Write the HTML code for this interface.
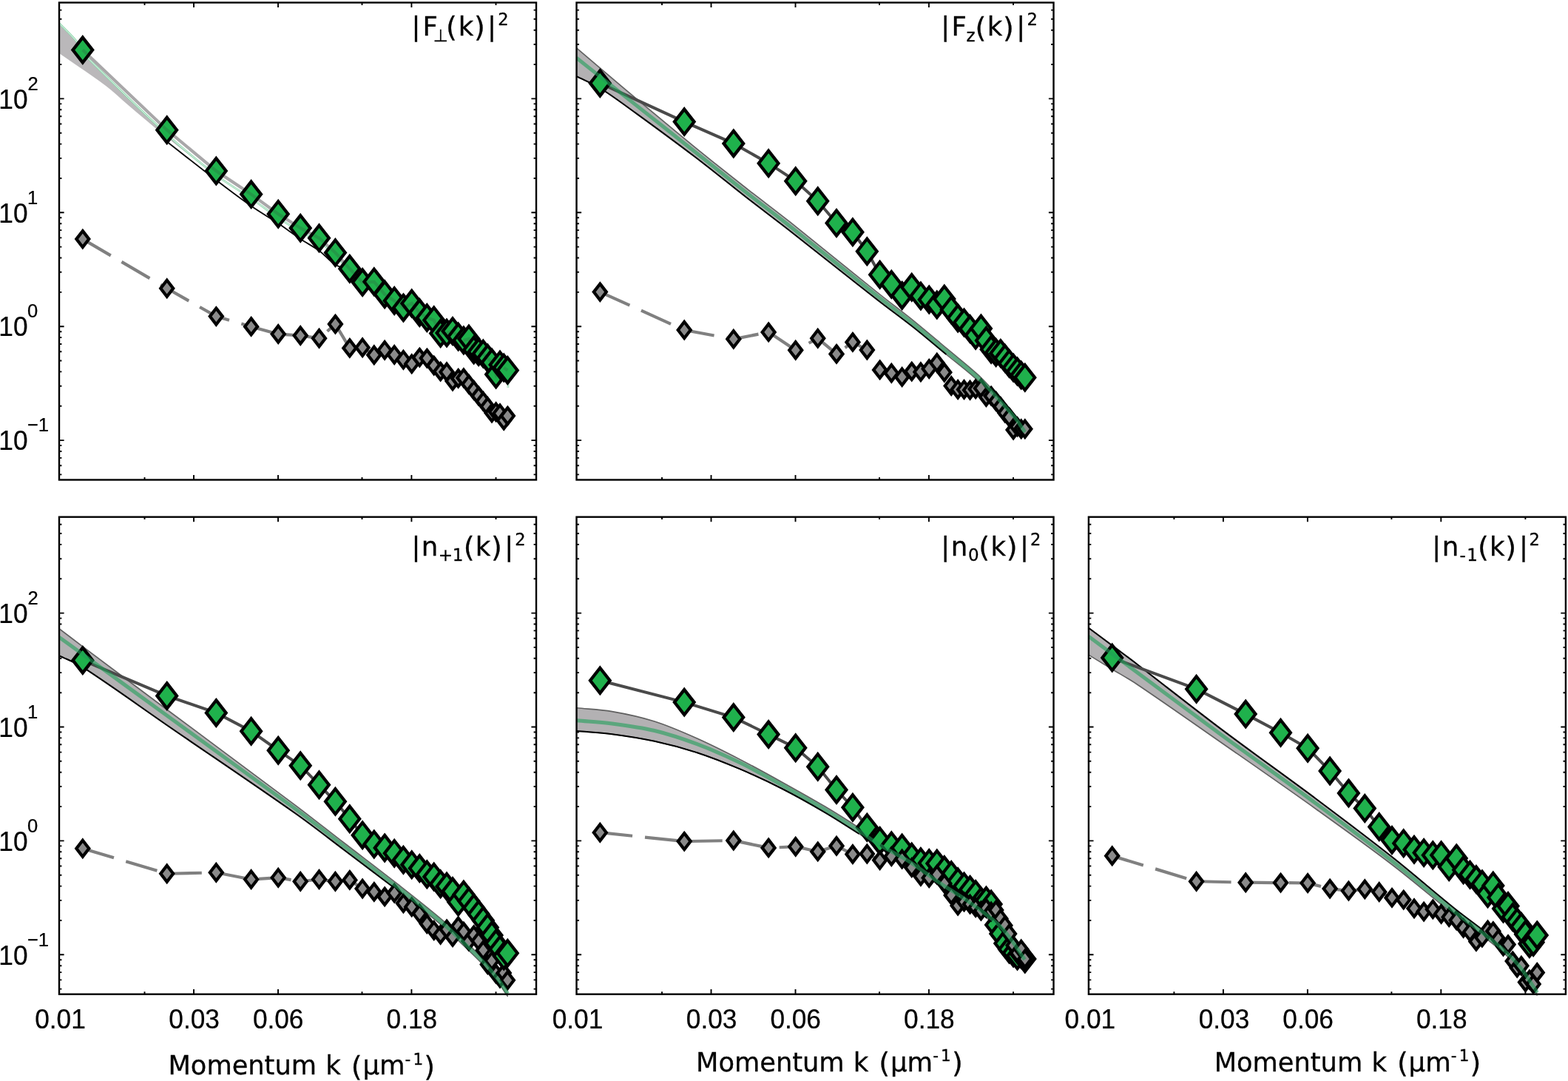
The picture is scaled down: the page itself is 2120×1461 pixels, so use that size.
<!DOCTYPE html>
<html lang="en"><head><meta charset="utf-8"><title>Momentum spectra</title>
<style>
html,body{margin:0;padding:0;background:#fff}
body{width:2120px;height:1461px;overflow:hidden}
svg{display:block}
text{fill:#000}
.tk{font-family:"Liberation Sans",sans-serif;font-size:36.5px;stroke:#000;stroke-width:.25px}
.sp{font-size:26.5px}
.tt{font-family:"DejaVu Sans","Liberation Sans",sans-serif;font-size:35.5px;stroke:#000;stroke-width:.3px}
.gl{fill:none;stroke:#4a4a4a;stroke-width:4}
.gl1{fill:none;stroke:#a9a7a9;stroke-width:4.2}
.st{fill:none;stroke:#3c3c3c;stroke-opacity:.2;stroke-width:4.2}
.gm{fill:#1fb14c;stroke:#000;stroke-width:4.3;stroke-linejoin:miter}
.kl{fill:none;stroke:#808080;stroke-width:4.2;stroke-dasharray:44 17}
.km{fill:#8a8a8a;stroke:#000;stroke-width:4.2;stroke-linejoin:miter}
.bf{fill:#b3b1b3;stroke:none}
.bf1{fill:#bab8ba;stroke:none}
.be{fill:none;stroke:#606060;stroke-width:1.6}
.bk{fill:none;stroke:#000;stroke-width:2}
.bk1{fill:none;stroke:#000;stroke-width:1.8}
.gt1{fill:none;stroke:#8fd4ac;stroke-width:2.6}
.gt2{fill:none;stroke:#f4fff8;stroke-width:.9}
.gs{fill:none;stroke:#1f9e58;stroke-opacity:.6;stroke-width:5}
</style></head><body>
<svg width="2120" height="1461" viewBox="0 0 2120 1461" role="img" aria-label="Momentum spectra of spin and density fluctuations">
<rect width="2120" height="1461" fill="#fff"/>
<defs>
<clipPath id="cP1"><rect x="80" y="-36.5" width="685" height="705"/></clipPath>
<clipPath id="cP2"><rect x="779.5" y="-36.5" width="685" height="705"/></clipPath>
<clipPath id="cP3"><rect x="80" y="658.7" width="685" height="705"/></clipPath>
<clipPath id="cP4"><rect x="779.5" y="658.7" width="685" height="705"/></clipPath>
<clipPath id="cP5"><rect x="1471.9" y="658.7" width="685" height="705"/></clipPath>
<path id="gd" class="gm" d="M0 -17L13.3 0L0 17L-13.3 0Z"/>
<path id="kd" class="km" d="M0 -11L8.5 0L0 11L-8.5 0Z"/>
</defs>
<g id="P1">
<path d="M195.5 3.5v3.4M195.5 648.5v-3.4M262 3.5v6.6M262 648.5v-6.6M376 3.5v6.6M376 648.5v-6.6M489.5 3.5v3.4M489.5 648.5v-3.4M556.4 3.5v6.6M556.4 648.5v-6.6M670.5 3.5v3.4M670.5 648.5v-3.4M80 133.4h6.6M725 133.4h-6.6M80 87.1h3.4M725 87.1h-3.4M80 60h3.4M725 60h-3.4M80 40.7h3.4M725 40.7h-3.4M80 25.8h3.4M725 25.8h-3.4M80 13.6h3.4M725 13.6h-3.4M80 287.3h6.6M725 287.3h-6.6M80 241h3.4M725 241h-3.4M80 213.9h3.4M725 213.9h-3.4M80 194.6h3.4M725 194.6h-3.4M80 179.7h3.4M725 179.7h-3.4M80 167.5h3.4M725 167.5h-3.4M80 157.2h3.4M725 157.2h-3.4M80 148.3h3.4M725 148.3h-3.4M80 140.4h3.4M725 140.4h-3.4M80 441.2h6.6M725 441.2h-6.6M80 394.9h3.4M725 394.9h-3.4M80 367.8h3.4M725 367.8h-3.4M80 348.5h3.4M725 348.5h-3.4M80 333.6h3.4M725 333.6h-3.4M80 321.4h3.4M725 321.4h-3.4M80 311.1h3.4M725 311.1h-3.4M80 302.2h3.4M725 302.2h-3.4M80 294.3h3.4M725 294.3h-3.4M80 595.1h6.6M725 595.1h-6.6M80 548.8h3.4M725 548.8h-3.4M80 521.7h3.4M725 521.7h-3.4M80 502.4h3.4M725 502.4h-3.4M80 487.5h3.4M725 487.5h-3.4M80 475.3h3.4M725 475.3h-3.4M80 465h3.4M725 465h-3.4M80 456.1h3.4M725 456.1h-3.4M80 448.2h3.4M725 448.2h-3.4M80 641.4h3.4M725 641.4h-3.4M80 629.2h3.4M725 629.2h-3.4M80 618.9h3.4M725 618.9h-3.4M80 610h3.4M725 610h-3.4M80 602.1h3.4M725 602.1h-3.4" fill="none" stroke="#000" stroke-width="1.9"/>
<g clip-path="url(#cP1)">
<path class="bf1" d="M80 31.5C87.2 38.9 94.9 45.8 101.6 53.7C105.6 58.4 108.4 64 111.9 69C114.4 72.6 116.7 76.4 119.8 79.5C154.6 114 189.5 148.5 225.7 181.5C247 200.9 270.1 218.4 292.3 236.8L292.4 237.5C270.2 220.3 247.6 203.4 225.7 185.8C207.7 171.4 190.3 156.4 172.7 141.5C163 133.3 153.8 124.3 143.7 116.5C131.3 106.9 118.2 98.4 105.4 89.5C97 83.6 88.5 77.8 80 72Z"/>
<path class="bk1" d="M225.7 191.5C247.9 208.8 270 226.4 292.4 243.5C308 255.4 323.6 267.3 339.7 278.5C351.6 286.8 364.3 294 376.4 302.1C386.5 308.9 396.2 316.3 406.3 323C414.6 328.6 423.7 333.1 431.7 339C439.5 344.8 445.4 353 453.7 358C459.5 361.5 466.6 362 473 364"/>
<path class="gt1" d="M80 31.5C87.2 38.9 94.9 45.8 101.6 53.7C105.6 58.4 108.4 64 111.9 69C114.4 72.6 116.7 76.4 119.8 79.5C154.6 114 189.5 148.5 225.7 181.5C247 200.9 269.3 219.3 292.3 236.8C307.3 248.3 324 257.5 339.6 268.2C351.9 276.7 363.8 286 376.2 294.4C386 301 396 307.2 406.2 313.2C414.4 318 423.6 321.4 431.5 326.8C439.4 332.2 446.5 338.9 453.4 345.5C460.3 352 466.3 359.4 472.8 366.3C478.5 372.4 482.7 380.7 490.1 384.6C494.7 387.1 501.2 381.3 505.8 383.8C512.3 387.3 514.7 395.7 520.1 400.7C523.9 404.3 528.9 406.4 533.2 409.5C537.4 412.5 540.3 418.1 545.4 418.9C549.6 419.5 552.6 411.8 556.7 413C562 414.6 563.3 421.8 567.3 425.6C570.2 428.4 573.7 430.6 577.3 432.5C580.2 434 584.5 433.3 586.7 435.8C591 440.8 590.9 448.8 595.6 453.5C597.5 455.5 601.2 453.5 604 453C606.7 452.5 609.3 449.6 612 450.5C615.4 451.6 616.9 455.7 619.6 458C621.9 459.9 624.1 462.4 626.9 463C629.3 463.5 632.2 459.3 633.9 461C637.9 464.8 637.4 471.6 640.6 476C642 477.8 644.9 477.7 647.1 478.5C649.2 479.3 651.5 479.7 653.3 481C655.6 482.6 657.3 485 659.3 487C661.2 489 663.8 490.5 665 493C667.6 498 665.1 507.5 670.6 509C675.1 510.2 672.4 499 676 496C677.7 494.6 680 498.2 681.2 500C683.6 503.7 685.7 507.7 686.7 512C687.6 515.9 686.8 520 686.9 524"/>
<path class="gt2" d="M80 31.5C87.2 38.9 94.9 45.8 101.6 53.7C105.6 58.4 108.4 64 111.9 69C114.4 72.6 116.7 76.4 119.8 79.5C154.6 114 189.5 148.5 225.7 181.5C247 200.9 269.3 219.3 292.3 236.8C307.3 248.3 324 257.5 339.6 268.2C351.9 276.7 363.8 286 376.2 294.4C386 301 396 307.2 406.2 313.2C414.4 318 423.6 321.4 431.5 326.8C439.4 332.2 446.5 338.9 453.4 345.5C460.3 352 466.3 359.4 472.8 366.3C478.5 372.4 482.7 380.7 490.1 384.6C494.7 387.1 501.2 381.3 505.8 383.8C512.3 387.3 514.7 395.7 520.1 400.7C523.9 404.3 528.9 406.4 533.2 409.5C537.4 412.5 540.3 418.1 545.4 418.9C549.6 419.5 552.6 411.8 556.7 413C562 414.6 563.3 421.8 567.3 425.6C570.2 428.4 573.7 430.6 577.3 432.5C580.2 434 584.5 433.3 586.7 435.8C591 440.8 590.9 448.8 595.6 453.5C597.5 455.5 601.2 453.5 604 453C606.7 452.5 609.3 449.6 612 450.5C615.4 451.6 616.9 455.7 619.6 458C621.9 459.9 624.1 462.4 626.9 463C629.3 463.5 632.2 459.3 633.9 461C637.9 464.8 637.4 471.6 640.6 476C642 477.8 644.9 477.7 647.1 478.5C649.2 479.3 651.5 479.7 653.3 481C655.6 482.6 657.3 485 659.3 487C661.2 489 663.8 490.5 665 493C667.6 498 665.1 507.5 670.6 509C675.1 510.2 672.4 499 676 496C677.7 494.6 680 498.2 681.2 500C683.6 503.7 685.7 507.7 686.7 512C687.6 515.9 686.8 520 686.9 524"/>
<polyline class="kl" points="111.8,323.1 225.7,389.8 292.3,427.6 339.6,441.4 376.2,451.5 406.2,453.5 431.5,457.3 453.4,438.1 472.8,470.4 490.1,469.7 505.8,479.8 520.1,473.3 533.2,479.5 545.4,486.2 556.7,491.7 567.3,483.1 577.3,484.1 586.7,494.1 595.6,502.1 604,502.8 612,515 619.6,511.4 626.9,510.7 633.9,519.3 640.6,527.2 647.1,535.1 653.3,542.3 659.3,549.5 665,558.1 670.6,556.7 676,558.8 681.2,568.2 686.3,562.1"/>
<use href="#kd" x="111.8" y="323.1"/><use href="#kd" x="225.7" y="389.8"/><use href="#kd" x="292.3" y="427.6"/><use href="#kd" x="339.6" y="441.4"/><use href="#kd" x="376.2" y="451.5"/><use href="#kd" x="406.2" y="453.5"/><use href="#kd" x="431.5" y="457.3"/><use href="#kd" x="453.4" y="438.1"/><use href="#kd" x="472.8" y="470.4"/><use href="#kd" x="490.1" y="469.7"/><use href="#kd" x="505.8" y="479.8"/><use href="#kd" x="520.1" y="473.3"/><use href="#kd" x="533.2" y="479.5"/><use href="#kd" x="545.4" y="486.2"/><use href="#kd" x="556.7" y="491.7"/><use href="#kd" x="567.3" y="483.1"/><use href="#kd" x="577.3" y="484.1"/><use href="#kd" x="586.7" y="494.1"/><use href="#kd" x="595.6" y="502.1"/><use href="#kd" x="604" y="502.8"/><use href="#kd" x="612" y="515"/><use href="#kd" x="619.6" y="511.4"/><use href="#kd" x="626.9" y="510.7"/><use href="#kd" x="633.9" y="519.3"/><use href="#kd" x="640.6" y="527.2"/><use href="#kd" x="647.1" y="535.1"/><use href="#kd" x="653.3" y="542.3"/><use href="#kd" x="659.3" y="549.5"/><use href="#kd" x="665" y="558.1"/><use href="#kd" x="670.6" y="556.7"/><use href="#kd" x="676" y="558.8"/><use href="#kd" x="681.2" y="568.2"/><use href="#kd" x="686.3" y="562.1"/>
<polyline class="gl1" points="111.8,67.6 225.7,175.7 292.3,231 339.6,262.6 376.2,289.2 406.2,308.2 431.5,321.8 453.4,341.5 472.8,363.3 490.1,381.6 505.8,380.8 520.1,397.7 533.2,406.5 545.4,415.9 556.7,410 567.3,422.6 577.3,429.5 586.7,432.8 595.6,450.5 604,450 612,447.5 619.6,455 626.9,460 633.9,458 640.6,473 647.1,475.5 653.3,478 659.3,484 665,490 670.6,506 676,493 681.2,497 686.3,500.5"/>
<use href="#gd" x="111.8" y="67.6"/>
<polyline class="st" points="111.8,67.6 117.8,73.3"/>
<use href="#gd" x="225.7" y="175.7"/>
<polyline class="st" points="219.7,170 225.7,175.7 232,180.9"/>
<use href="#gd" x="292.3" y="231"/>
<polyline class="st" points="286,225.8 292.3,231 299.1,235.6"/>
<use href="#gd" x="339.6" y="262.6"/>
<polyline class="st" points="332.7,258 339.6,262.6 346.2,267.4"/>
<use href="#gd" x="376.2" y="289.2"/>
<polyline class="st" points="369.6,284.4 376.2,289.2 383.2,293.6"/>
<use href="#gd" x="406.2" y="308.2"/>
<polyline class="st" points="399.2,303.8 406.2,308.2 413.5,312.1"/>
<use href="#gd" x="431.5" y="321.8"/>
<polyline class="st" points="424.2,317.9 431.5,321.8 437.6,327.3"/>
<use href="#gd" x="453.4" y="341.5"/>
<polyline class="st" points="447.3,336 453.4,341.5 459,347.7"/>
<use href="#gd" x="472.8" y="363.3"/>
<polyline class="st" points="467.3,357.1 472.8,363.3 478.5,369.3"/>
<use href="#gd" x="490.1" y="381.6"/>
<polyline class="st" points="484.4,375.6 490.1,381.6 500.1,381.1"/>
<use href="#gd" x="505.8" y="380.8"/>
<polyline class="st" points="495.8,381.3 505.8,380.8 511.2,387.2"/>
<use href="#gd" x="520.1" y="397.7"/>
<polyline class="st" points="514.7,391.3 520.1,397.7 526.9,402.3"/>
<use href="#gd" x="533.2" y="406.5"/>
<polyline class="st" points="526.4,401.9 533.2,406.5 539.7,411.5"/>
<use href="#gd" x="545.4" y="415.9"/>
<polyline class="st" points="538.9,410.9 545.4,415.9 552.8,412.1"/>
<use href="#gd" x="556.7" y="410"/>
<polyline class="st" points="549.3,413.8 556.7,410 562.1,416.4"/>
<use href="#gd" x="567.3" y="422.6"/>
<polyline class="st" points="561.9,416.2 567.3,422.6 574.1,427.3"/>
<use href="#gd" x="577.3" y="429.5"/>
<polyline class="st" points="570.5,424.8 577.3,429.5 585.4,432.4"/>
<use href="#gd" x="586.7" y="432.8"/>
<polyline class="st" points="578.5,429.9 586.7,432.8 590.7,440.9"/>
<use href="#gd" x="595.6" y="450.5"/>
<polyline class="st" points="591.5,442.4 595.6,450.5 604,450"/>
<use href="#gd" x="604" y="450"/>
<polyline class="st" points="595.6,450.5 604,450 612,447.5"/>
<use href="#gd" x="612" y="447.5"/>
<polyline class="st" points="604,450 612,447.5 617.9,453.3"/>
<use href="#gd" x="619.6" y="455"/>
<polyline class="st" points="613.8,449.2 619.6,455 626.4,459.6"/>
<use href="#gd" x="626.9" y="460"/>
<polyline class="st" points="620.2,455.4 626.9,460 633.9,458"/>
<use href="#gd" x="633.9" y="458"/>
<polyline class="st" points="626.9,460 633.9,458 637.7,466.5"/>
<use href="#gd" x="640.6" y="473"/>
<polyline class="st" points="636.9,464.5 640.6,473 647.1,475.5"/>
<use href="#gd" x="647.1" y="475.5"/>
<polyline class="st" points="640.6,473 647.1,475.5 653.3,478"/>
<use href="#gd" x="653.3" y="478"/>
<polyline class="st" points="647.1,475.5 653.3,478 659.1,483.8"/>
<use href="#gd" x="659.3" y="484"/>
<polyline class="st" points="653.4,478.2 659.3,484 665,490"/>
<use href="#gd" x="665" y="490"/>
<polyline class="st" points="659.3,484 665,490 668.2,499.2"/>
<use href="#gd" x="670.6" y="506"/>
<polyline class="st" points="667.4,496.8 670.6,506 674.2,497.3"/>
<use href="#gd" x="676" y="493"/>
<polyline class="st" points="672.4,501.7 676,493 681.2,497"/>
<use href="#gd" x="681.2" y="497"/>
<polyline class="st" points="676,493 681.2,497 686.3,500.5"/>
<use href="#gd" x="686.3" y="500.5"/>
<polyline class="st" points="681.2,497 686.3,500.5"/>

</g>
<rect x="80" y="3.5" width="645" height="645" fill="none" stroke="#000" stroke-width="2.4"/>
</g>
<g id="P2">
<path d="M895 3.5v3.4M895 648.5v-3.4M961.5 3.5v6.6M961.5 648.5v-6.6M1075.5 3.5v6.6M1075.5 648.5v-6.6M1189 3.5v3.4M1189 648.5v-3.4M1255.9 3.5v6.6M1255.9 648.5v-6.6M1370 3.5v3.4M1370 648.5v-3.4M779.5 133.4h6.6M1424.5 133.4h-6.6M779.5 87.1h3.4M1424.5 87.1h-3.4M779.5 60h3.4M1424.5 60h-3.4M779.5 40.7h3.4M1424.5 40.7h-3.4M779.5 25.8h3.4M1424.5 25.8h-3.4M779.5 13.6h3.4M1424.5 13.6h-3.4M779.5 287.3h6.6M1424.5 287.3h-6.6M779.5 241h3.4M1424.5 241h-3.4M779.5 213.9h3.4M1424.5 213.9h-3.4M779.5 194.6h3.4M1424.5 194.6h-3.4M779.5 179.7h3.4M1424.5 179.7h-3.4M779.5 167.5h3.4M1424.5 167.5h-3.4M779.5 157.2h3.4M1424.5 157.2h-3.4M779.5 148.3h3.4M1424.5 148.3h-3.4M779.5 140.4h3.4M1424.5 140.4h-3.4M779.5 441.2h6.6M1424.5 441.2h-6.6M779.5 394.9h3.4M1424.5 394.9h-3.4M779.5 367.8h3.4M1424.5 367.8h-3.4M779.5 348.5h3.4M1424.5 348.5h-3.4M779.5 333.6h3.4M1424.5 333.6h-3.4M779.5 321.4h3.4M1424.5 321.4h-3.4M779.5 311.1h3.4M1424.5 311.1h-3.4M779.5 302.2h3.4M1424.5 302.2h-3.4M779.5 294.3h3.4M1424.5 294.3h-3.4M779.5 595.1h6.6M1424.5 595.1h-6.6M779.5 548.8h3.4M1424.5 548.8h-3.4M779.5 521.7h3.4M1424.5 521.7h-3.4M779.5 502.4h3.4M1424.5 502.4h-3.4M779.5 487.5h3.4M1424.5 487.5h-3.4M779.5 475.3h3.4M1424.5 475.3h-3.4M779.5 465h3.4M1424.5 465h-3.4M779.5 456.1h3.4M1424.5 456.1h-3.4M779.5 448.2h3.4M1424.5 448.2h-3.4M779.5 641.4h3.4M1424.5 641.4h-3.4M779.5 629.2h3.4M1424.5 629.2h-3.4M779.5 618.9h3.4M1424.5 618.9h-3.4M779.5 610h3.4M1424.5 610h-3.4M779.5 602.1h3.4M1424.5 602.1h-3.4" fill="none" stroke="#000" stroke-width="1.9"/>
<g clip-path="url(#cP2)">
<path class="bf" d="M779.5 64.9C790.1 73.9 800.6 82.9 811.2 91.9C827.4 105.7 843.6 119.5 860 133.1C886.6 155.3 913.2 177.4 940 199.3C962.7 217.7 985.5 235.9 1008.5 254C1028.3 269.6 1048.6 284.5 1068.3 300.2C1107.7 331.5 1146.6 363.6 1186 395C1202.6 408.3 1219.7 421 1236.2 434.3C1250.8 446.1 1265 458.3 1279.4 470.4C1293.8 482.5 1308.7 493.9 1322.5 506.7C1332.7 516.1 1341.8 526.7 1351.2 536.9C1358.6 544.9 1366 552.8 1372.8 561.3C1377.5 567.2 1381.4 573.8 1385.7 580L1385.7 588C1381.4 581.8 1377.5 575.2 1372.8 569.3C1366 560.8 1358.6 552.9 1351.2 544.9C1341.8 534.7 1332.7 524.1 1322.5 514.7C1308.8 502.1 1293.8 490.9 1279.4 479C1265 467.1 1250.8 454.9 1236.2 443.3C1219.7 430.2 1202.6 418 1186 405C1146.6 374.3 1107.7 343 1068.3 312.2C1048.5 296.7 1028.3 281.7 1008.5 266.2C985.6 248.3 963.1 229.9 940 212.3C913.6 192.2 886.9 172.6 860 153.1C843.9 141.5 828.1 129.5 811.2 119C801.2 112.8 790.1 108.5 779.5 103.2Z"/>
<path class="be" d="M779.5 64.9C790.1 73.9 800.6 82.9 811.2 91.9C827.4 105.7 843.6 119.5 860 133.1C886.6 155.3 913.2 177.4 940 199.3C962.7 217.7 985.5 235.9 1008.5 254C1028.3 269.6 1048.6 284.5 1068.3 300.2C1107.7 331.5 1146.6 363.6 1186 395C1202.6 408.3 1219.7 421 1236.2 434.3C1250.8 446.1 1265 458.3 1279.4 470.4C1293.8 482.5 1308.7 493.9 1322.5 506.7C1332.7 516.1 1341.8 526.7 1351.2 536.9C1358.6 544.9 1366 552.8 1372.8 561.3C1377.5 567.2 1381.4 573.8 1385.7 580"/>
<path class="be" d="M779.5 103.2C790.1 108.5 801.2 112.8 811.2 119C828.1 129.5 843.9 141.5 860 153.1C886.9 172.6 913.6 192.2 940 212.3C963.1 229.9 985.6 248.3 1008.5 266.2C1028.3 281.7 1048.5 296.7 1068.3 312.2C1107.7 343 1146.6 374.3 1186 405C1202.6 418 1219.7 430.2 1236.2 443.3C1250.8 454.9 1265 467.1 1279.4 479C1293.8 490.9 1308.8 502.1 1322.5 514.7C1332.7 524.1 1341.8 534.7 1351.2 544.9C1358.6 552.9 1366 560.8 1372.8 569.3C1377.5 575.2 1381.4 581.8 1385.7 588"/>
<path class="bk" d="M779.5 103.2C790.1 108.5 801.2 112.8 811.2 119C828.1 129.5 843.9 141.5 860 153.1C886.9 172.6 913.6 192.2 940 212.3C963.1 229.9 985.6 248.3 1008.5 266.2C1028.3 281.7 1048.5 296.7 1068.3 312.2C1107.7 343 1146.6 374.3 1186 405C1202.6 418 1219.7 430.2 1236.2 443.3C1250.8 454.9 1265 467.1 1279.4 479"/>
<polyline class="kl" points="811.3,394.6 925.2,446 991.8,458.3 1039.1,448.9 1075.7,473.2 1105.7,457.3 1131,478.4 1152.9,462.4 1172.3,473 1189.6,499.9 1205.3,504.2 1219.6,509.5 1232.7,502.1 1244.9,502.8 1256.2,498.5 1266.8,490.3 1276.8,503.2 1286.2,521.5 1295.1,526.5 1303.5,526.5 1311.5,527.2 1319.1,525.8 1326.4,524.8 1333.4,536.6 1340.1,535.1 1346.6,542.3 1352.8,549.5 1358.8,558.1 1364.5,563.9 1370.1,581.1 1375.5,576.8 1380.7,579.7 1385.8,579.7"/>
<use href="#kd" x="811.3" y="394.6"/><use href="#kd" x="925.2" y="446"/><use href="#kd" x="991.8" y="458.3"/><use href="#kd" x="1039.1" y="448.9"/><use href="#kd" x="1075.7" y="473.2"/><use href="#kd" x="1105.7" y="457.3"/><use href="#kd" x="1131" y="478.4"/><use href="#kd" x="1152.9" y="462.4"/><use href="#kd" x="1172.3" y="473"/><use href="#kd" x="1189.6" y="499.9"/><use href="#kd" x="1205.3" y="504.2"/><use href="#kd" x="1219.6" y="509.5"/><use href="#kd" x="1232.7" y="502.1"/><use href="#kd" x="1244.9" y="502.8"/><use href="#kd" x="1256.2" y="498.5"/><use href="#kd" x="1266.8" y="490.3"/><use href="#kd" x="1276.8" y="503.2"/><use href="#kd" x="1286.2" y="521.5"/><use href="#kd" x="1295.1" y="526.5"/><use href="#kd" x="1303.5" y="526.5"/><use href="#kd" x="1311.5" y="527.2"/><use href="#kd" x="1319.1" y="525.8"/><use href="#kd" x="1326.4" y="524.8"/><use href="#kd" x="1333.4" y="536.6"/><use href="#kd" x="1340.1" y="535.1"/><use href="#kd" x="1346.6" y="542.3"/><use href="#kd" x="1352.8" y="549.5"/><use href="#kd" x="1358.8" y="558.1"/><use href="#kd" x="1364.5" y="563.9"/><use href="#kd" x="1370.1" y="581.1"/><use href="#kd" x="1375.5" y="576.8"/><use href="#kd" x="1380.7" y="579.7"/><use href="#kd" x="1385.8" y="579.7"/>
<polyline class="gl" points="811.3,112.4 925.2,164.6 991.8,193.9 1039.1,220.7 1075.7,244.7 1105.7,271.8 1131,301.5 1152.9,313.8 1172.3,339.7 1189.6,371.3 1205.3,384.2 1219.6,399.4 1232.7,388.2 1244.9,400 1256.2,405 1266.8,412 1276.8,404 1286.2,418.7 1295.1,429.9 1303.5,436 1311.5,444.6 1319.1,453.2 1326.4,444 1333.4,460.2 1340.1,472.2 1346.6,476.5 1352.8,477.4 1358.8,484.3 1364.5,491.2 1370.1,497 1375.5,502 1380.7,507 1385.8,510.3"/>
<use href="#gd" x="811.3" y="112.4"/><use href="#gd" x="925.2" y="164.6"/><use href="#gd" x="991.8" y="193.9"/><use href="#gd" x="1039.1" y="220.7"/><use href="#gd" x="1075.7" y="244.7"/><use href="#gd" x="1105.7" y="271.8"/><use href="#gd" x="1131" y="301.5"/><use href="#gd" x="1152.9" y="313.8"/><use href="#gd" x="1172.3" y="339.7"/><use href="#gd" x="1189.6" y="371.3"/><use href="#gd" x="1205.3" y="384.2"/><use href="#gd" x="1219.6" y="399.4"/><use href="#gd" x="1232.7" y="388.2"/><use href="#gd" x="1244.9" y="400"/><use href="#gd" x="1256.2" y="405"/><use href="#gd" x="1266.8" y="412"/><use href="#gd" x="1276.8" y="404"/><use href="#gd" x="1286.2" y="418.7"/><use href="#gd" x="1295.1" y="429.9"/><use href="#gd" x="1303.5" y="436"/><use href="#gd" x="1311.5" y="444.6"/><use href="#gd" x="1319.1" y="453.2"/><use href="#gd" x="1326.4" y="444"/><use href="#gd" x="1333.4" y="460.2"/><use href="#gd" x="1340.1" y="472.2"/><use href="#gd" x="1346.6" y="476.5"/><use href="#gd" x="1352.8" y="477.4"/><use href="#gd" x="1358.8" y="484.3"/><use href="#gd" x="1364.5" y="491.2"/><use href="#gd" x="1370.1" y="497"/><use href="#gd" x="1375.5" y="502"/><use href="#gd" x="1380.7" y="507"/><use href="#gd" x="1385.8" y="510.3"/>
<path class="gs" d="M779.5 78.3C790.1 86.7 800.6 95 811.2 103.4C827.5 116.3 843.7 129.2 860 142.1C886.7 163.2 913.3 184.4 940 205.5C962.8 223.6 985.6 241.8 1008.5 259.8C1028.3 275.3 1048.5 290.4 1068.3 306C1107.7 337.1 1146.6 368.9 1186 400C1202.6 413.1 1219.7 425.6 1236.2 438.8C1250.8 450.5 1265 462.7 1279.4 474.7C1293.8 486.7 1308.7 498 1322.5 510.7C1332.7 520.1 1341.8 530.7 1351.2 540.9C1358.6 548.9 1366 556.8 1372.8 565.3C1377.5 571.2 1381.4 577.8 1385.7 584"/>
</g>
<rect x="779.5" y="3.5" width="645" height="645" fill="none" stroke="#000" stroke-width="2.4"/>
</g>
<g id="P3">
<path d="M195.5 698.7v3.4M195.5 1343.7v-3.4M262 698.7v6.6M262 1343.7v-6.6M376 698.7v6.6M376 1343.7v-6.6M489.5 698.7v3.4M489.5 1343.7v-3.4M556.4 698.7v6.6M556.4 1343.7v-6.6M670.5 698.7v3.4M670.5 1343.7v-3.4M80 828.6h6.6M725 828.6h-6.6M80 782.3h3.4M725 782.3h-3.4M80 755.2h3.4M725 755.2h-3.4M80 735.9h3.4M725 735.9h-3.4M80 721h3.4M725 721h-3.4M80 708.8h3.4M725 708.8h-3.4M80 982.5h6.6M725 982.5h-6.6M80 936.2h3.4M725 936.2h-3.4M80 909.1h3.4M725 909.1h-3.4M80 889.8h3.4M725 889.8h-3.4M80 874.9h3.4M725 874.9h-3.4M80 862.7h3.4M725 862.7h-3.4M80 852.4h3.4M725 852.4h-3.4M80 843.5h3.4M725 843.5h-3.4M80 835.6h3.4M725 835.6h-3.4M80 1136.4h6.6M725 1136.4h-6.6M80 1090.1h3.4M725 1090.1h-3.4M80 1063h3.4M725 1063h-3.4M80 1043.7h3.4M725 1043.7h-3.4M80 1028.8h3.4M725 1028.8h-3.4M80 1016.6h3.4M725 1016.6h-3.4M80 1006.3h3.4M725 1006.3h-3.4M80 997.4h3.4M725 997.4h-3.4M80 989.5h3.4M725 989.5h-3.4M80 1290.3h6.6M725 1290.3h-6.6M80 1244h3.4M725 1244h-3.4M80 1216.9h3.4M725 1216.9h-3.4M80 1197.6h3.4M725 1197.6h-3.4M80 1182.7h3.4M725 1182.7h-3.4M80 1170.5h3.4M725 1170.5h-3.4M80 1160.2h3.4M725 1160.2h-3.4M80 1151.3h3.4M725 1151.3h-3.4M80 1143.4h3.4M725 1143.4h-3.4M80 1336.6h3.4M725 1336.6h-3.4M80 1324.4h3.4M725 1324.4h-3.4M80 1314.1h3.4M725 1314.1h-3.4M80 1305.2h3.4M725 1305.2h-3.4M80 1297.3h3.4M725 1297.3h-3.4" fill="none" stroke="#000" stroke-width="1.9"/>
<g clip-path="url(#cP3)">
<path class="bf" d="M80 849.7C90.6 857.7 101.2 865.8 111.8 873.8C149.7 902.2 187.6 930.7 225.6 959C283.7 1002.3 342.1 1045.3 400 1088.8C421.9 1105.3 443.3 1122.3 465 1139C490 1158.3 515.2 1177.2 540 1196.7C559.6 1212.1 579.2 1227.4 598.2 1243.5C610.3 1253.8 621.6 1265 633.1 1276C641 1283.6 648.9 1291.2 656.3 1299.3C662.5 1306 668.3 1313.1 673.8 1320.3C678.4 1326.3 682.3 1332.7 686.6 1338.9L686.6 1346.9C682.3 1340.7 678.4 1334.3 673.8 1328.3C668.3 1321.1 662.5 1314 656.3 1307.3C648.9 1299.2 641 1291.6 633.1 1284C621.6 1273 610.3 1261.8 598.2 1251.5C579.3 1235.5 559.6 1220.5 540 1205.3C515.2 1186.1 490 1167.4 465 1148.5C443.4 1132.2 422.1 1115.4 400 1099.8C342.3 1059.2 283.7 1020 225.6 980C187.7 953.9 150.5 926.7 111.8 901.7C101.9 895.3 90.6 891.3 80 886.1Z"/>
<path class="be" d="M80 849.7C90.6 857.7 101.2 865.8 111.8 873.8C149.7 902.2 187.6 930.7 225.6 959C283.7 1002.3 342.1 1045.3 400 1088.8C421.9 1105.3 443.3 1122.3 465 1139C490 1158.3 515.2 1177.2 540 1196.7C559.6 1212.1 579.2 1227.4 598.2 1243.5C610.3 1253.8 621.6 1265 633.1 1276C641 1283.6 648.9 1291.2 656.3 1299.3C662.5 1306 668.3 1313.1 673.8 1320.3C678.4 1326.3 682.3 1332.7 686.6 1338.9"/>
<path class="be" d="M80 886.1C90.6 891.3 101.9 895.3 111.8 901.7C150.5 926.7 187.7 953.9 225.6 980C283.7 1020 342.3 1059.2 400 1099.8C422.1 1115.4 443.4 1132.2 465 1148.5C490 1167.4 515.2 1186.1 540 1205.3C559.6 1220.5 579.3 1235.5 598.2 1251.5C610.3 1261.8 621.6 1273 633.1 1284C641 1291.6 648.9 1299.2 656.3 1307.3C662.5 1314 668.3 1321.1 673.8 1328.3C678.4 1334.3 682.3 1340.7 686.6 1346.9"/>
<path class="bk" d="M80 886.1C90.6 891.3 101.9 895.3 111.8 901.7C150.5 926.7 187.7 953.9 225.6 980C283.7 1020 342.3 1059.2 400 1099.8C422.1 1115.4 443.4 1132.2 465 1148.5C490 1167.4 515 1186.4 540 1205.3"/>
<polyline class="kl" points="111.8,1146.7 225.7,1180.8 292.3,1179.3 339.6,1188.5 376.2,1186.2 406.2,1191.2 431.5,1188.5 453.4,1191.3 472.8,1189.4 490.1,1201 505.8,1205.4 520.1,1211.9 533.2,1207 545.4,1220.8 556.7,1225.7 567.3,1234.7 577.3,1248.5 586.7,1257.5 595.6,1263.2 604,1255.9 612,1266.5 619.6,1251.8 626.9,1259.1 633.9,1272 640.6,1263.6 647.1,1271.8 653.3,1284.2 659.3,1303.5 665,1298.5 670.6,1316 676,1322 681.2,1315 686.3,1324.7"/>
<use href="#kd" x="111.8" y="1146.7"/><use href="#kd" x="225.7" y="1180.8"/><use href="#kd" x="292.3" y="1179.3"/><use href="#kd" x="339.6" y="1188.5"/><use href="#kd" x="376.2" y="1186.2"/><use href="#kd" x="406.2" y="1191.2"/><use href="#kd" x="431.5" y="1188.5"/><use href="#kd" x="453.4" y="1191.3"/><use href="#kd" x="472.8" y="1189.4"/><use href="#kd" x="490.1" y="1201"/><use href="#kd" x="505.8" y="1205.4"/><use href="#kd" x="520.1" y="1211.9"/><use href="#kd" x="533.2" y="1207"/><use href="#kd" x="545.4" y="1220.8"/><use href="#kd" x="556.7" y="1225.7"/><use href="#kd" x="567.3" y="1234.7"/><use href="#kd" x="577.3" y="1248.5"/><use href="#kd" x="586.7" y="1257.5"/><use href="#kd" x="595.6" y="1263.2"/><use href="#kd" x="604" y="1255.9"/><use href="#kd" x="612" y="1266.5"/><use href="#kd" x="619.6" y="1251.8"/><use href="#kd" x="626.9" y="1259.1"/><use href="#kd" x="633.9" y="1272"/><use href="#kd" x="640.6" y="1263.6"/><use href="#kd" x="647.1" y="1271.8"/><use href="#kd" x="653.3" y="1284.2"/><use href="#kd" x="659.3" y="1303.5"/><use href="#kd" x="665" y="1298.5"/><use href="#kd" x="670.6" y="1316"/><use href="#kd" x="676" y="1322"/><use href="#kd" x="681.2" y="1315"/><use href="#kd" x="686.3" y="1324.7"/>
<polyline class="gl" points="111.8,892.4 225.7,940.4 292.3,963.4 339.6,988.3 376.2,1014.2 406.2,1034.7 431.5,1060.8 453.4,1083.3 472.8,1106.8 490.1,1128.8 505.8,1141 520.1,1145.9 533.2,1153.2 545.4,1162.2 556.7,1168.7 567.3,1173.6 577.3,1181.7 586.7,1185 595.6,1194.8 604,1198 612,1204.6 619.6,1219 626.9,1209 633.9,1218 640.6,1227 647.1,1235.5 653.3,1244 659.3,1253.5 665,1264 670.6,1275 676,1283 681.2,1292 686.3,1288.2"/>
<use href="#gd" x="111.8" y="892.4"/><use href="#gd" x="225.7" y="940.4"/><use href="#gd" x="292.3" y="963.4"/><use href="#gd" x="339.6" y="988.3"/><use href="#gd" x="376.2" y="1014.2"/><use href="#gd" x="406.2" y="1034.7"/><use href="#gd" x="431.5" y="1060.8"/><use href="#gd" x="453.4" y="1083.3"/><use href="#gd" x="472.8" y="1106.8"/><use href="#gd" x="490.1" y="1128.8"/><use href="#gd" x="505.8" y="1141"/><use href="#gd" x="520.1" y="1145.9"/><use href="#gd" x="533.2" y="1153.2"/><use href="#gd" x="545.4" y="1162.2"/><use href="#gd" x="556.7" y="1168.7"/><use href="#gd" x="567.3" y="1173.6"/><use href="#gd" x="577.3" y="1181.7"/><use href="#gd" x="586.7" y="1185"/><use href="#gd" x="595.6" y="1194.8"/><use href="#gd" x="604" y="1198"/><use href="#gd" x="612" y="1204.6"/><use href="#gd" x="619.6" y="1219"/><use href="#gd" x="626.9" y="1209"/><use href="#gd" x="633.9" y="1218"/><use href="#gd" x="640.6" y="1227"/><use href="#gd" x="647.1" y="1235.5"/><use href="#gd" x="653.3" y="1244"/><use href="#gd" x="659.3" y="1253.5"/><use href="#gd" x="665" y="1264"/><use href="#gd" x="670.6" y="1275"/><use href="#gd" x="676" y="1283"/><use href="#gd" x="681.2" y="1292"/><use href="#gd" x="686.3" y="1288.2"/>
<path class="gs" d="M80 861.2C90.6 868.9 101.2 876.6 111.8 884.3C149.7 911.9 187.7 939.4 225.6 967C283.7 1009.3 342.1 1051.1 400 1093.8C422 1110 443.3 1126.9 465 1143.5C490 1162.7 515.2 1181.6 540 1201C559.6 1216.3 579.3 1231.4 598.2 1247.5C610.3 1257.8 621.6 1269 633.1 1280C641 1287.6 648.9 1295.2 656.3 1303.3C662.5 1310 668.3 1317.1 673.8 1324.3C678.4 1330.3 682.3 1336.7 686.6 1342.9"/>
</g>
<rect x="80" y="698.7" width="645" height="645" fill="none" stroke="#000" stroke-width="2.4"/>
</g>
<g id="P4">
<path d="M895 698.7v3.4M895 1343.7v-3.4M961.5 698.7v6.6M961.5 1343.7v-6.6M1075.5 698.7v6.6M1075.5 1343.7v-6.6M1189 698.7v3.4M1189 1343.7v-3.4M1255.9 698.7v6.6M1255.9 1343.7v-6.6M1370 698.7v3.4M1370 1343.7v-3.4M779.5 828.6h6.6M1424.5 828.6h-6.6M779.5 782.3h3.4M1424.5 782.3h-3.4M779.5 755.2h3.4M1424.5 755.2h-3.4M779.5 735.9h3.4M1424.5 735.9h-3.4M779.5 721h3.4M1424.5 721h-3.4M779.5 708.8h3.4M1424.5 708.8h-3.4M779.5 982.5h6.6M1424.5 982.5h-6.6M779.5 936.2h3.4M1424.5 936.2h-3.4M779.5 909.1h3.4M1424.5 909.1h-3.4M779.5 889.8h3.4M1424.5 889.8h-3.4M779.5 874.9h3.4M1424.5 874.9h-3.4M779.5 862.7h3.4M1424.5 862.7h-3.4M779.5 852.4h3.4M1424.5 852.4h-3.4M779.5 843.5h3.4M1424.5 843.5h-3.4M779.5 835.6h3.4M1424.5 835.6h-3.4M779.5 1136.4h6.6M1424.5 1136.4h-6.6M779.5 1090.1h3.4M1424.5 1090.1h-3.4M779.5 1063h3.4M1424.5 1063h-3.4M779.5 1043.7h3.4M1424.5 1043.7h-3.4M779.5 1028.8h3.4M1424.5 1028.8h-3.4M779.5 1016.6h3.4M1424.5 1016.6h-3.4M779.5 1006.3h3.4M1424.5 1006.3h-3.4M779.5 997.4h3.4M1424.5 997.4h-3.4M779.5 989.5h3.4M1424.5 989.5h-3.4M779.5 1290.3h6.6M1424.5 1290.3h-6.6M779.5 1244h3.4M1424.5 1244h-3.4M779.5 1216.9h3.4M1424.5 1216.9h-3.4M779.5 1197.6h3.4M1424.5 1197.6h-3.4M779.5 1182.7h3.4M1424.5 1182.7h-3.4M779.5 1170.5h3.4M1424.5 1170.5h-3.4M779.5 1160.2h3.4M1424.5 1160.2h-3.4M779.5 1151.3h3.4M1424.5 1151.3h-3.4M779.5 1143.4h3.4M1424.5 1143.4h-3.4M779.5 1336.6h3.4M1424.5 1336.6h-3.4M779.5 1324.4h3.4M1424.5 1324.4h-3.4M779.5 1314.1h3.4M1424.5 1314.1h-3.4M779.5 1305.2h3.4M1424.5 1305.2h-3.4M779.5 1297.3h3.4M1424.5 1297.3h-3.4" fill="none" stroke="#000" stroke-width="1.9"/>
<g clip-path="url(#cP4)">
<path class="bf" d="M779.6 956.8C795.6 958.4 811.7 958.9 827.5 961.6C846.9 964.9 866.2 969.1 885 975C904.7 981.2 923.6 989.6 942.5 998C962 1006.7 981 1016.3 1000 1026.1C1019.4 1036.1 1038.4 1046.6 1057.5 1057.2C1076.8 1067.9 1096 1078.6 1115 1089.8C1130.7 1099.1 1146.2 1108.9 1161.5 1118.8C1170.9 1124.9 1179.6 1132.1 1189.1 1137.9C1201.5 1145.5 1215 1151.3 1227.3 1159.1C1241.9 1168.3 1255.5 1179.1 1269.8 1188.8C1283.8 1198.2 1298.6 1206.5 1312.2 1216.4C1326.9 1227.1 1342.1 1237.3 1354.7 1250.4C1366.8 1263 1375.2 1278.7 1385.4 1292.8L1385.4 1300.8C1375.2 1286.7 1366.8 1271 1354.7 1258.4C1342.1 1245.3 1326.9 1235.1 1312.2 1224.4C1298.6 1214.5 1283.8 1206.2 1269.8 1196.8C1255.5 1187.1 1241.9 1176.3 1227.3 1167.1C1215 1159.3 1201.5 1153.5 1189.1 1145.9C1179.6 1140.1 1170.9 1132.9 1161.5 1126.8C1146.2 1116.9 1130.8 1107 1115 1097.8C1096.1 1086.7 1077 1075.9 1057.5 1066C1038.7 1056.4 1019.5 1047.5 1000 1039.2C981.1 1031.2 962 1023.5 942.5 1017.2C923.6 1011.1 904.4 1006 885 1001.8C866 997.7 846.8 994.7 827.5 992.2C811.6 990.1 795.6 989.4 779.6 988Z"/>
<path class="be" d="M779.6 956.8C795.6 958.4 811.7 958.9 827.5 961.6C846.9 964.9 866.2 969.1 885 975C904.7 981.2 923.6 989.6 942.5 998C962 1006.7 981 1016.3 1000 1026.1C1019.4 1036.1 1038.4 1046.6 1057.5 1057.2C1076.8 1067.9 1096 1078.6 1115 1089.8C1130.7 1099.1 1146.2 1108.9 1161.5 1118.8C1170.9 1124.9 1179.6 1132.1 1189.1 1137.9C1201.5 1145.5 1215 1151.3 1227.3 1159.1C1241.9 1168.3 1255.5 1179.1 1269.8 1188.8C1283.8 1198.2 1298.6 1206.5 1312.2 1216.4C1326.9 1227.1 1342.1 1237.3 1354.7 1250.4C1366.8 1263 1375.2 1278.7 1385.4 1292.8"/>
<path class="be" d="M779.6 988C795.6 989.4 811.6 990.1 827.5 992.2C846.8 994.7 866 997.7 885 1001.8C904.4 1006 923.6 1011.1 942.5 1017.2C962 1023.5 981.1 1031.2 1000 1039.2C1019.5 1047.5 1038.7 1056.4 1057.5 1066C1077 1075.9 1096.1 1086.7 1115 1097.8C1130.8 1107 1146.2 1116.9 1161.5 1126.8C1170.9 1132.9 1179.6 1140.1 1189.1 1145.9C1201.5 1153.5 1215 1159.3 1227.3 1167.1C1241.9 1176.3 1255.5 1187.1 1269.8 1196.8C1283.8 1206.2 1298.6 1214.5 1312.2 1224.4C1326.9 1235.1 1342.1 1245.3 1354.7 1258.4C1366.8 1271 1375.2 1286.7 1385.4 1300.8"/>
<path class="bk" d="M779.6 988C795.6 989.4 811.6 990.1 827.5 992.2C846.8 994.7 866 997.7 885 1001.8C904.4 1006 923.6 1011.1 942.5 1017.2C962 1023.5 981.1 1031.2 1000 1039.2C1019.5 1047.5 1038.7 1056.4 1057.5 1066C1077 1075.9 1096.1 1086.7 1115 1097.8C1130.8 1107 1146 1117.1 1161.5 1126.8"/>
<polyline class="gl" points="811.3,919.8 925.2,949.1 991.8,969.6 1039.1,992.6 1075.7,1010.8 1105.7,1036.3 1131,1067.5 1152.9,1091.2 1172.3,1118.3 1189.6,1136.5 1205.3,1142.8 1219.6,1146 1232.7,1158 1244.9,1164.5 1256.2,1166.5 1266.8,1167 1276.8,1175.5 1286.2,1182.5 1295.1,1191.8 1303.5,1198 1311.5,1202.4 1319.1,1208.5 1326.4,1218 1333.4,1217 1340.1,1222 1346.6,1250 1352.8,1262 1358.8,1275 1364.5,1283 1370.1,1288 1375.5,1292 1380.7,1290 1385.8,1296"/>
<use href="#gd" x="811.3" y="919.8"/><use href="#gd" x="925.2" y="949.1"/><use href="#gd" x="991.8" y="969.6"/><use href="#gd" x="1039.1" y="992.6"/><use href="#gd" x="1075.7" y="1010.8"/><use href="#gd" x="1105.7" y="1036.3"/><use href="#gd" x="1131" y="1067.5"/><use href="#gd" x="1152.9" y="1091.2"/><use href="#gd" x="1172.3" y="1118.3"/><use href="#gd" x="1189.6" y="1136.5"/><use href="#gd" x="1205.3" y="1142.8"/><use href="#gd" x="1219.6" y="1146"/><use href="#gd" x="1232.7" y="1158"/><use href="#gd" x="1244.9" y="1164.5"/><use href="#gd" x="1256.2" y="1166.5"/><use href="#gd" x="1266.8" y="1167"/><use href="#gd" x="1276.8" y="1175.5"/><use href="#gd" x="1286.2" y="1182.5"/><use href="#gd" x="1295.1" y="1191.8"/><use href="#gd" x="1303.5" y="1198"/><use href="#gd" x="1311.5" y="1202.4"/><use href="#gd" x="1319.1" y="1208.5"/><use href="#gd" x="1326.4" y="1218"/><use href="#gd" x="1333.4" y="1217"/><use href="#gd" x="1340.1" y="1222"/><use href="#gd" x="1346.6" y="1250"/><use href="#gd" x="1352.8" y="1262"/><use href="#gd" x="1358.8" y="1275"/><use href="#gd" x="1364.5" y="1283"/><use href="#gd" x="1370.1" y="1288"/><use href="#gd" x="1375.5" y="1292"/><use href="#gd" x="1380.7" y="1290"/><use href="#gd" x="1385.8" y="1296"/>
<polyline class="kl" points="811.3,1125.2 925.2,1137.1 991.8,1136 1039.1,1145.9 1075.7,1144.2 1105.7,1150.9 1131,1143.3 1152.9,1154.5 1172.3,1154 1189.6,1162.6 1205.3,1157.5 1219.6,1161 1232.7,1172.5 1244.9,1184.3 1256.2,1186.5 1266.8,1182 1276.8,1194 1286.2,1209.9 1295.1,1224 1303.5,1218.9 1311.5,1222 1319.1,1226.5 1326.4,1231 1333.4,1227.2 1340.1,1232 1346.6,1230 1352.8,1241.5 1358.8,1250.8 1364.5,1262 1370.1,1277.7 1375.5,1288 1380.7,1283 1385.8,1296"/>
<use href="#kd" x="811.3" y="1125.2"/><use href="#kd" x="925.2" y="1137.1"/><use href="#kd" x="991.8" y="1136"/><use href="#kd" x="1039.1" y="1145.9"/><use href="#kd" x="1075.7" y="1144.2"/><use href="#kd" x="1105.7" y="1150.9"/><use href="#kd" x="1131" y="1143.3"/><use href="#kd" x="1152.9" y="1154.5"/><use href="#kd" x="1172.3" y="1154"/><use href="#kd" x="1189.6" y="1162.6"/><use href="#kd" x="1205.3" y="1157.5"/><use href="#kd" x="1219.6" y="1161"/><use href="#kd" x="1232.7" y="1172.5"/><use href="#kd" x="1244.9" y="1184.3"/><use href="#kd" x="1256.2" y="1186.5"/><use href="#kd" x="1266.8" y="1182"/><use href="#kd" x="1276.8" y="1194"/><use href="#kd" x="1286.2" y="1209.9"/><use href="#kd" x="1295.1" y="1224"/><use href="#kd" x="1303.5" y="1218.9"/><use href="#kd" x="1311.5" y="1222"/><use href="#kd" x="1319.1" y="1226.5"/><use href="#kd" x="1326.4" y="1231"/><use href="#kd" x="1333.4" y="1227.2"/><use href="#kd" x="1340.1" y="1232"/><use href="#kd" x="1346.6" y="1230"/><use href="#kd" x="1352.8" y="1241.5"/><use href="#kd" x="1358.8" y="1250.8"/><use href="#kd" x="1364.5" y="1262"/><use href="#kd" x="1370.1" y="1277.7"/><use href="#kd" x="1375.5" y="1288"/><use href="#kd" x="1380.7" y="1283"/><use href="#kd" x="1385.8" y="1296"/>
<path class="gs" d="M779.6 973.7C795.6 975.1 811.6 975.8 827.5 977.9C846.8 980.4 866.1 982.9 885 987.5C904.5 992.2 923.7 998.6 942.5 1005.7C962.1 1013 981.2 1021.5 1000 1030.6C1019.6 1040 1038.5 1050.7 1057.5 1061.2C1076.8 1071.8 1096 1082.6 1115 1093.8C1130.7 1103.1 1146.2 1112.9 1161.5 1122.8C1170.9 1128.9 1179.6 1136.1 1189.1 1141.9C1201.5 1149.5 1215 1155.3 1227.3 1163.1C1241.9 1172.3 1255.5 1183.1 1269.8 1192.8C1283.8 1202.2 1298.6 1210.5 1312.2 1220.4C1326.9 1231.1 1342.1 1241.3 1354.7 1254.4C1366.8 1267 1375.2 1282.7 1385.4 1296.8"/>
</g>
<rect x="779.5" y="698.7" width="645" height="645" fill="none" stroke="#000" stroke-width="2.4"/>
</g>
<g id="P5">
<path d="M1587.4 698.7v3.4M1587.4 1343.7v-3.4M1653.9 698.7v6.6M1653.9 1343.7v-6.6M1767.9 698.7v6.6M1767.9 1343.7v-6.6M1881.4 698.7v3.4M1881.4 1343.7v-3.4M1948.3 698.7v6.6M1948.3 1343.7v-6.6M2062.4 698.7v3.4M2062.4 1343.7v-3.4M1471.9 828.6h6.6M2116.9 828.6h-6.6M1471.9 782.3h3.4M2116.9 782.3h-3.4M1471.9 755.2h3.4M2116.9 755.2h-3.4M1471.9 735.9h3.4M2116.9 735.9h-3.4M1471.9 721h3.4M2116.9 721h-3.4M1471.9 708.8h3.4M2116.9 708.8h-3.4M1471.9 982.5h6.6M2116.9 982.5h-6.6M1471.9 936.2h3.4M2116.9 936.2h-3.4M1471.9 909.1h3.4M2116.9 909.1h-3.4M1471.9 889.8h3.4M2116.9 889.8h-3.4M1471.9 874.9h3.4M2116.9 874.9h-3.4M1471.9 862.7h3.4M2116.9 862.7h-3.4M1471.9 852.4h3.4M2116.9 852.4h-3.4M1471.9 843.5h3.4M2116.9 843.5h-3.4M1471.9 835.6h3.4M2116.9 835.6h-3.4M1471.9 1136.4h6.6M2116.9 1136.4h-6.6M1471.9 1090.1h3.4M2116.9 1090.1h-3.4M1471.9 1063h3.4M2116.9 1063h-3.4M1471.9 1043.7h3.4M2116.9 1043.7h-3.4M1471.9 1028.8h3.4M2116.9 1028.8h-3.4M1471.9 1016.6h3.4M2116.9 1016.6h-3.4M1471.9 1006.3h3.4M2116.9 1006.3h-3.4M1471.9 997.4h3.4M2116.9 997.4h-3.4M1471.9 989.5h3.4M2116.9 989.5h-3.4M1471.9 1290.3h6.6M2116.9 1290.3h-6.6M1471.9 1244h3.4M2116.9 1244h-3.4M1471.9 1216.9h3.4M2116.9 1216.9h-3.4M1471.9 1197.6h3.4M2116.9 1197.6h-3.4M1471.9 1182.7h3.4M2116.9 1182.7h-3.4M1471.9 1170.5h3.4M2116.9 1170.5h-3.4M1471.9 1160.2h3.4M2116.9 1160.2h-3.4M1471.9 1151.3h3.4M2116.9 1151.3h-3.4M1471.9 1143.4h3.4M2116.9 1143.4h-3.4M1471.9 1336.6h3.4M2116.9 1336.6h-3.4M1471.9 1324.4h3.4M2116.9 1324.4h-3.4M1471.9 1314.1h3.4M2116.9 1314.1h-3.4M1471.9 1305.2h3.4M2116.9 1305.2h-3.4M1471.9 1297.3h3.4M2116.9 1297.3h-3.4" fill="none" stroke="#000" stroke-width="1.9"/>
<g clip-path="url(#cP5)">
<path class="bf" d="M1472 848.7C1482.6 856.6 1493.1 864.5 1503.7 872.4C1514.7 880.7 1525.8 888.8 1536.7 897.2C1575.1 926.7 1613 956.8 1651.7 985.9C1694.1 1017.8 1737.5 1048.4 1780 1080.2C1814.2 1105.8 1848.4 1131.5 1881.9 1158C1910.7 1180.8 1938.2 1205 1966.8 1228C1978.6 1237.5 1990.9 1246.2 2002.8 1255.5C2013.6 1264 2024.6 1272.2 2034.7 1281.5C2042.3 1288.4 2049.6 1295.9 2055.9 1304C2064.2 1314.6 2071 1326.3 2078.5 1337.5L2078.5 1345.5C2071 1334.3 2064.2 1322.6 2055.9 1312C2049.6 1303.9 2042.3 1296.4 2034.7 1289.5C2024.6 1280.2 2013.6 1271.9 2002.8 1263.5C1991 1254.3 1978.5 1246 1966.8 1236.8C1938.2 1214.4 1910.8 1190.6 1881.9 1168.5C1848.5 1142.9 1814.2 1118.5 1780 1094C1737.5 1063.6 1694.6 1033.9 1651.7 1004C1613.5 977.4 1575.4 950.5 1536.7 924.5C1526 917.3 1514.7 911.2 1503.7 904.5C1493.1 898.1 1482.6 891.6 1472 885.1Z"/>
<path class="be" d="M1472 848.7C1482.6 856.6 1493.1 864.5 1503.7 872.4C1514.7 880.7 1525.8 888.8 1536.7 897.2C1575.1 926.7 1613 956.8 1651.7 985.9C1694.1 1017.8 1737.5 1048.4 1780 1080.2C1814.2 1105.8 1848.4 1131.5 1881.9 1158C1910.7 1180.8 1938.2 1205 1966.8 1228C1978.6 1237.5 1990.9 1246.2 2002.8 1255.5C2013.6 1264 2024.6 1272.2 2034.7 1281.5C2042.3 1288.4 2049.6 1295.9 2055.9 1304C2064.2 1314.6 2071 1326.3 2078.5 1337.5"/>
<path class="be" d="M1472 885.1C1482.6 891.6 1493.1 898.1 1503.7 904.5C1514.7 911.2 1526 917.3 1536.7 924.5C1575.4 950.5 1613.5 977.4 1651.7 1004C1694.6 1033.9 1737.5 1063.6 1780 1094C1814.2 1118.5 1848.5 1142.9 1881.9 1168.5C1910.8 1190.6 1938.2 1214.4 1966.8 1236.8C1978.5 1246 1991 1254.3 2002.8 1263.5C2013.6 1271.9 2024.6 1280.2 2034.7 1289.5C2042.3 1296.4 2049.6 1303.9 2055.9 1312C2064.2 1322.6 2071 1334.3 2078.5 1345.5"/>
<path class="bk" d="M1472 848.7C1482.6 856.6 1493.1 864.5 1503.7 872.4C1514.7 880.7 1525.8 888.8 1536.7 897.2C1575.1 926.7 1613 956.8 1651.7 985.9C1694.1 1017.8 1737.5 1048.4 1780 1080.2C1814.2 1105.8 1848.4 1131.5 1881.9 1158C1910.7 1180.8 1938.2 1205 1966.8 1228C1978.6 1237.5 1990.8 1246.3 2002.8 1255.5"/>
<polyline class="kl" points="1503.7,1156.7 1617.6,1191.2 1684.2,1192.7 1731.5,1193.1 1768.1,1193.5 1798.1,1201.1 1823.4,1204 1845.3,1201.7 1864.7,1205.5 1882,1213.4 1897.7,1216.1 1912,1227.8 1925.1,1232.1 1937.3,1228.9 1948.6,1235.2 1959.2,1239.5 1969.2,1243.7 1978.6,1254.3 1987.5,1259.7 1995.9,1272.4 2003.9,1267.1 2011.5,1257 2018.8,1258.6 2025.8,1269.2 2032.5,1279 2039,1276.6 2045.2,1298.9 2051.2,1308 2056.9,1305.3 2062.5,1327.6 2067.9,1324 2073.1,1330 2078.2,1314.4"/>
<use href="#kd" x="1503.7" y="1156.7"/><use href="#kd" x="1617.6" y="1191.2"/><use href="#kd" x="1684.2" y="1192.7"/><use href="#kd" x="1731.5" y="1193.1"/><use href="#kd" x="1768.1" y="1193.5"/><use href="#kd" x="1798.1" y="1201.1"/><use href="#kd" x="1823.4" y="1204"/><use href="#kd" x="1845.3" y="1201.7"/><use href="#kd" x="1864.7" y="1205.5"/><use href="#kd" x="1882" y="1213.4"/><use href="#kd" x="1897.7" y="1216.1"/><use href="#kd" x="1912" y="1227.8"/><use href="#kd" x="1925.1" y="1232.1"/><use href="#kd" x="1937.3" y="1228.9"/><use href="#kd" x="1948.6" y="1235.2"/><use href="#kd" x="1959.2" y="1239.5"/><use href="#kd" x="1969.2" y="1243.7"/><use href="#kd" x="1978.6" y="1254.3"/><use href="#kd" x="1987.5" y="1259.7"/><use href="#kd" x="1995.9" y="1272.4"/><use href="#kd" x="2003.9" y="1267.1"/><use href="#kd" x="2011.5" y="1257"/><use href="#kd" x="2018.8" y="1258.6"/><use href="#kd" x="2025.8" y="1269.2"/><use href="#kd" x="2032.5" y="1279"/><use href="#kd" x="2039" y="1276.6"/><use href="#kd" x="2045.2" y="1298.9"/><use href="#kd" x="2051.2" y="1308"/><use href="#kd" x="2056.9" y="1305.3"/><use href="#kd" x="2062.5" y="1327.6"/><use href="#kd" x="2067.9" y="1324"/><use href="#kd" x="2073.1" y="1330"/><use href="#kd" x="2078.2" y="1314.4"/>
<polyline class="gl" points="1503.7,889 1617.6,931.2 1684.2,965.1 1731.5,990.2 1768.1,1011.3 1798.1,1042 1823.4,1071.9 1845.3,1092.6 1864.7,1117.5 1882,1135.5 1897.7,1139.7 1912,1148.2 1925.1,1152.5 1937.3,1155.7 1948.6,1155.7 1959.2,1171.6 1969.2,1159.9 1978.6,1175.8 1987.5,1182.2 1995.9,1188.6 2003.9,1194.9 2011.5,1207.7 2018.8,1197 2025.8,1213 2032.5,1228 2039,1224.6 2045.2,1239.5 2051.2,1245.9 2056.9,1252.2 2062.5,1262.8 2067.9,1275.6 2073.1,1273.4 2078.2,1263.9"/>
<use href="#gd" x="1503.7" y="889"/><use href="#gd" x="1617.6" y="931.2"/><use href="#gd" x="1684.2" y="965.1"/><use href="#gd" x="1731.5" y="990.2"/><use href="#gd" x="1768.1" y="1011.3"/><use href="#gd" x="1798.1" y="1042"/><use href="#gd" x="1823.4" y="1071.9"/><use href="#gd" x="1845.3" y="1092.6"/><use href="#gd" x="1864.7" y="1117.5"/><use href="#gd" x="1882" y="1135.5"/><use href="#gd" x="1897.7" y="1139.7"/><use href="#gd" x="1912" y="1148.2"/><use href="#gd" x="1925.1" y="1152.5"/><use href="#gd" x="1937.3" y="1155.7"/><use href="#gd" x="1948.6" y="1155.7"/><use href="#gd" x="1959.2" y="1171.6"/><use href="#gd" x="1969.2" y="1159.9"/><use href="#gd" x="1978.6" y="1175.8"/><use href="#gd" x="1987.5" y="1182.2"/><use href="#gd" x="1995.9" y="1188.6"/><use href="#gd" x="2003.9" y="1194.9"/><use href="#gd" x="2011.5" y="1207.7"/><use href="#gd" x="2018.8" y="1197"/><use href="#gd" x="2025.8" y="1213"/><use href="#gd" x="2032.5" y="1228"/><use href="#gd" x="2039" y="1224.6"/><use href="#gd" x="2045.2" y="1239.5"/><use href="#gd" x="2051.2" y="1245.9"/><use href="#gd" x="2056.9" y="1252.2"/><use href="#gd" x="2062.5" y="1262.8"/><use href="#gd" x="2067.9" y="1275.6"/><use href="#gd" x="2073.1" y="1273.4"/><use href="#gd" x="2078.2" y="1263.9"/>
<path class="gs" d="M1472 860.2C1482.6 868 1493.1 875.9 1503.7 883.7C1514.7 891.9 1525.7 900 1536.7 908.2C1575 936.6 1613.2 965.2 1651.7 993.4C1694.3 1024.6 1737.5 1055.1 1780 1086.5C1814.2 1111.8 1848.4 1137.3 1881.9 1163.5C1910.6 1186 1938.2 1209.8 1966.8 1232.5C1978.5 1241.8 1991 1250.3 2002.8 1259.5C2013.6 1267.9 2024.6 1276.2 2034.7 1285.5C2042.3 1292.4 2049.6 1299.9 2055.9 1308C2064.2 1318.6 2071 1330.3 2078.5 1341.5"/>
</g>
<rect x="1471.9" y="698.7" width="645" height="645" fill="none" stroke="#000" stroke-width="2.4"/>
</g>
<g id="labels">
<text class="tt" transform="translate(556.6 48.1)"><tspan x="0.0" y="0.0">|</tspan><tspan x="14.9" y="0.0">F</tspan><tspan x="29.2" y="8.0" style="font-size:23px">⊥</tspan><tspan x="46.4" y="1.2" style="font-size:38.0px">(</tspan><tspan x="63.1" y="0.0">k</tspan><tspan x="84.4" y="1.2" style="font-size:38.0px">)</tspan><tspan x="102.4" y="0.0">|</tspan><tspan x="116.7" y="-14.3" style="font-size:22.5px">2</tspan></text>
<text class="tt" transform="translate(1272.3 48.4)"><tspan x="0.0" y="0.0">|</tspan><tspan x="14.2" y="0.0">F</tspan><tspan x="34.2" y="7.4" style="font-size:23px">z</tspan><tspan x="46.3" y="1.2" style="font-size:38.0px">(</tspan><tspan x="62.5" y="0.0">k</tspan><tspan x="83.8" y="1.2" style="font-size:38.0px">)</tspan><tspan x="102.0" y="0.0">|</tspan><tspan x="116.1" y="-14.6" style="font-size:22.5px">2</tspan></text>
<text class="tt" transform="translate(556.6 751.1)"><tspan x="0.0" y="0.0">|</tspan><tspan x="13.1" y="0.0">n</tspan><tspan x="36.2" y="7.3" style="font-size:23px">+</tspan><tspan x="55.1" y="7.3" style="font-size:23px">1</tspan><tspan x="70.2" y="1.2" style="font-size:38.0px">(</tspan><tspan x="86.2" y="0.0">k</tspan><tspan x="107.5" y="1.2" style="font-size:38.0px">)</tspan><tspan x="125.6" y="0.0">|</tspan><tspan x="139.7" y="-14.6" style="font-size:22.5px">2</tspan></text>
<text class="tt" transform="translate(1272.3 751.1)"><tspan x="0.0" y="0.0">|</tspan><tspan x="13.4" y="0.0">n</tspan><tspan x="36.7" y="7.3" style="font-size:23px">0</tspan><tspan x="51.0" y="1.2" style="font-size:38.0px">(</tspan><tspan x="67.2" y="0.0">k</tspan><tspan x="88.5" y="1.2" style="font-size:38.0px">)</tspan><tspan x="106.6" y="0.0">|</tspan><tspan x="120.6" y="-14.6" style="font-size:22.5px">2</tspan></text>
<text class="tt" transform="translate(1936.3 751.1)"><tspan x="0.0" y="0.0">|</tspan><tspan x="13.4" y="0.0">n</tspan><tspan x="37.3" y="7.3" style="font-size:23px">-</tspan><tspan x="46.9" y="7.3" style="font-size:23px">1</tspan><tspan x="61.6" y="1.2" style="font-size:38.0px">(</tspan><tspan x="77.6" y="0.0">k</tspan><tspan x="99.0" y="1.2" style="font-size:38.0px">)</tspan><tspan x="117.6" y="0.0">|</tspan><tspan x="131.3" y="-14.6" style="font-size:22.5px">2</tspan></text>
<text class="tt" transform="translate(227.5 1452.4)"><tspan x="0.0" y="0.0" style="font-size:35.2px">Momentum </tspan><tspan x="212.7" y="0.0">k </tspan><tspan x="247.2" y="1.2" style="font-size:38.0px">(</tspan><tspan x="262.9" y="0.0">µm</tspan><tspan x="320.1" y="-13.9" style="font-size:21.5px">-</tspan><tspan x="331.0" y="-13.9" style="font-size:21.5px">1</tspan><tspan x="345.8" y="1.2" style="font-size:38.0px">)</tspan></text>
<text class="tt" transform="translate(941.1 1447.5)"><tspan x="0.0" y="0.0" style="font-size:35.2px">Momentum </tspan><tspan x="212.7" y="0.0">k </tspan><tspan x="247.2" y="1.2" style="font-size:38.0px">(</tspan><tspan x="262.9" y="0.0">µm</tspan><tspan x="320.1" y="-13.9" style="font-size:21.5px">-</tspan><tspan x="331.0" y="-13.9" style="font-size:21.5px">1</tspan><tspan x="345.8" y="1.2" style="font-size:38.0px">)</tspan></text>
<text class="tt" transform="translate(1641.7 1447.5)"><tspan x="0.0" y="0.0" style="font-size:35.2px">Momentum </tspan><tspan x="212.7" y="0.0">k </tspan><tspan x="247.2" y="1.2" style="font-size:38.0px">(</tspan><tspan x="262.9" y="0.0">µm</tspan><tspan x="320.1" y="-13.9" style="font-size:21.5px">-</tspan><tspan x="331.0" y="-13.9" style="font-size:21.5px">1</tspan><tspan x="345.8" y="1.2" style="font-size:38.0px">)</tspan></text>
<text class="tk" transform="translate(-1.7 146.6) scale(0.965 1)"><tspan x="0.0" y="0.0">10</tspan><tspan x="40.5" y="-25.0" style="font-size:26.5px">2</tspan></text>
<text class="tk" transform="translate(-1.7 300.5) scale(0.965 1)"><tspan x="0.0" y="0.0">10</tspan><tspan x="40.0" y="-25.0" style="font-size:26.5px">1</tspan></text>
<text class="tk" transform="translate(-1.7 454.4) scale(0.965 1)"><tspan x="0.0" y="0.0">10</tspan><tspan x="40.0" y="-25.0" style="font-size:26.5px">0</tspan></text>
<text class="tk" transform="translate(-1.7 608.3) scale(0.965 1)"><tspan x="0.0" y="0.0">10</tspan><tspan x="40.1" y="-25.0" style="font-size:26.5px">−</tspan><tspan x="55.4" y="-25.0" style="font-size:26.5px">1</tspan></text>
<text class="tk" transform="translate(-1.7 841.8) scale(0.965 1)"><tspan x="0.0" y="0.0">10</tspan><tspan x="40.5" y="-25.0" style="font-size:26.5px">2</tspan></text>
<text class="tk" transform="translate(-1.7 995.7) scale(0.965 1)"><tspan x="0.0" y="0.0">10</tspan><tspan x="40.0" y="-25.0" style="font-size:26.5px">1</tspan></text>
<text class="tk" transform="translate(-1.7 1149.6) scale(0.965 1)"><tspan x="0.0" y="0.0">10</tspan><tspan x="40.0" y="-25.0" style="font-size:26.5px">0</tspan></text>
<text class="tk" transform="translate(-1.7 1303.5) scale(0.965 1)"><tspan x="0.0" y="0.0">10</tspan><tspan x="40.1" y="-25.0" style="font-size:26.5px">−</tspan><tspan x="55.4" y="-25.0" style="font-size:26.5px">1</tspan></text>
<text class="tk" transform="translate(47.2 1389.6) scale(0.965 1)"><tspan x="0.0" y="0.0">0.01</tspan></text>
<text class="tk" transform="translate(228.3 1389.6) scale(0.965 1)"><tspan x="0.0" y="0.0">0.03</tspan></text>
<text class="tk" transform="translate(341.9 1389.6) scale(0.965 1)"><tspan x="0.0" y="0.0">0.06</tspan></text>
<text class="tk" transform="translate(522.6 1389.6) scale(0.965 1)"><tspan x="0.0" y="0.0">0.18</tspan></text>
<text class="tk" transform="translate(746.7 1389.6) scale(0.965 1)"><tspan x="0.0" y="0.0">0.01</tspan></text>
<text class="tk" transform="translate(927.8 1389.6) scale(0.965 1)"><tspan x="0.0" y="0.0">0.03</tspan></text>
<text class="tk" transform="translate(1041.4 1389.6) scale(0.965 1)"><tspan x="0.0" y="0.0">0.06</tspan></text>
<text class="tk" transform="translate(1222.1 1389.6) scale(0.965 1)"><tspan x="0.0" y="0.0">0.18</tspan></text>
<text class="tk" transform="translate(1439.6 1389.6) scale(0.965 1)"><tspan x="0.0" y="0.0">0.01</tspan></text>
<text class="tk" transform="translate(1620.7 1389.6) scale(0.965 1)"><tspan x="0.0" y="0.0">0.03</tspan></text>
<text class="tk" transform="translate(1734.3 1389.6) scale(0.965 1)"><tspan x="0.0" y="0.0">0.06</tspan></text>
<text class="tk" transform="translate(1915.0 1389.6) scale(0.965 1)"><tspan x="0.0" y="0.0">0.18</tspan></text>
</g>
</svg>
</body></html>
